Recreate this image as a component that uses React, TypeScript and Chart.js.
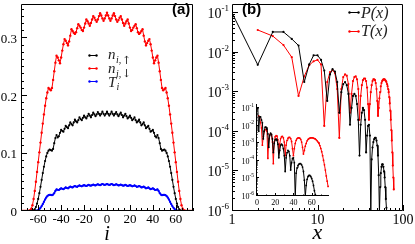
import React, { useEffect, useRef } from "react";
import { Chart, registerables } from "chart.js";
Chart.register(...registerables);

const SERIF = '"Liberation Serif", "Times New Roman", "DejaVu Serif", serif';
const SANS = '"Liberation Sans", Arial, "DejaVu Sans", sans-serif';

// ---------- panel (a) ----------
const sites = [
  -75, -74, -73, -72, -71, -70, -69, -68, -67, -66, -65, -64, -63, -62, -61, -60, -59, -58, -57, -56,
  -55, -54, -53, -52, -51, -50, -49, -48, -47, -46, -45, -44, -43, -42, -41, -40, -39, -38, -37, -36,
  -35, -34, -33, -32, -31, -30, -29, -28, -27, -26, -25, -24, -23, -22, -21, -20, -19, -18, -17, -16,
  -15, -14, -13, -12, -11, -10, -9, -8, -7, -6, -5, -4, -3, -2, -1, 0, 1, 2, 3, 4,
  5, 6, 7, 8, 9, 10, 11, 12, 13, 14, 15, 16, 17, 18, 19, 20, 21, 22, 23, 24,
  25, 26, 27, 28, 29, 30, 31, 32, 33, 34, 35, 36, 37, 38, 39, 40, 41, 42, 43, 44,
  45, 46, 47, 48, 49, 50, 51, 52, 53, 54, 55, 56, 57, 58, 59, 60, 61, 62, 63, 64,
  65, 66, 67, 68, 69, 70, 71, 72, 73, 74, 75,
];

const nUp = [
  0, 0, 0, 0, 0, 0,
  0, 0, 0, 0.0001, 0.0004, 0.0012, 0.003, 0.007, 0.013, 0.021,
  0.031, 0.042, 0.054, 0.066, 0.077, 0.087, 0.095, 0.101, 0.105, 0.107,
  0.106, 0.105, 0.108, 0.118, 0.127, 0.132, 0.128, 0.130, 0.136, 0.141,
  0.139, 0.138, 0.143, 0.148, 0.146, 0.144, 0.149, 0.154, 0.151, 0.149,
  0.154, 0.159, 0.156, 0.154, 0.158, 0.163, 0.160, 0.158, 0.162, 0.166,
  0.163, 0.161, 0.165, 0.169, 0.166, 0.163, 0.167, 0.171, 0.168, 0.165,
  0.168, 0.172, 0.169, 0.166, 0.169, 0.173, 0.169, 0.166, 0.169,
  0.173,
  0.169, 0.166, 0.169, 0.173, 0.169, 0.166, 0.169, 0.172, 0.168,
  0.165, 0.168, 0.171, 0.167, 0.163, 0.166, 0.169, 0.165, 0.161, 0.163,
  0.166, 0.162, 0.158, 0.160, 0.163, 0.158, 0.154, 0.156, 0.159, 0.154,
  0.149, 0.151, 0.154, 0.149, 0.144, 0.146, 0.148, 0.143, 0.138, 0.139,
  0.141, 0.136, 0.130, 0.128, 0.132, 0.127, 0.118, 0.108, 0.105, 0.106,
  0.107, 0.105, 0.101, 0.095, 0.087, 0.077, 0.066, 0.054, 0.042, 0.031,
  0.021, 0.013, 0.007, 0.003, 0.0012, 0.0004, 0.0001, 0, 0, 0,
  0, 0, 0, 0, 0, 0,
];

const nDown = [
  0, 0, 0, 0, 0, 0,
  0.0001, 0.0004, 0.0013, 0.004, 0.010, 0.021, 0.035, 0.051, 0.068, 0.085,
  0.102, 0.119, 0.136, 0.152, 0.168, 0.183, 0.196, 0.206, 0.214, 0.212,
  0.210, 0.214, 0.228, 0.243, 0.258, 0.270, 0.267, 0.262, 0.257, 0.267,
  0.279, 0.290, 0.299, 0.296, 0.292, 0.288, 0.295, 0.305, 0.316, 0.313,
  0.310, 0.308, 0.311, 0.318, 0.325, 0.322, 0.319, 0.315, 0.313, 0.319,
  0.326, 0.333, 0.330, 0.326, 0.322, 0.327, 0.333, 0.339, 0.336, 0.332,
  0.329, 0.333, 0.339, 0.344, 0.340, 0.335, 0.331, 0.335, 0.340,
  0.345,
  0.340, 0.335, 0.331, 0.335, 0.340, 0.344, 0.339, 0.333, 0.329,
  0.332, 0.336, 0.339, 0.333, 0.327, 0.322, 0.326, 0.330, 0.333, 0.326,
  0.319, 0.313, 0.315, 0.319, 0.322, 0.325, 0.318, 0.311, 0.308, 0.310,
  0.313, 0.316, 0.305, 0.295, 0.288, 0.292, 0.296, 0.299, 0.290, 0.279,
  0.267, 0.257, 0.262, 0.267, 0.270, 0.258, 0.243, 0.228, 0.214, 0.210,
  0.212, 0.214, 0.206, 0.196, 0.183, 0.168, 0.152, 0.136, 0.119, 0.102,
  0.085, 0.068, 0.051, 0.035, 0.021, 0.010, 0.004, 0.0013, 0.0004, 0.0001,
  0, 0, 0, 0, 0, 0,
];

const tSite = [
  0, 0, 0, 0, 0, 0, 0, 0, 0, 0, 0, 0, 0,
  0.0002, 0.0006, 0.0016, 0.0032, 0.0055, 0.0085, 0.012, 0.016, 0.020, 0.0235, 0.026, 0.0275, 0.028,
  0.028, 0.0275, 0.0285, 0.031, 0.035, 0.0375, 0.037, 0.0365, 0.038, 0.0395,
  0.0385, 0.038, 0.0395, 0.041, 0.040, 0.0395, 0.041, 0.0425, 0.0415, 0.041,
  0.0425, 0.0435, 0.0425, 0.042, 0.0435, 0.0445, 0.0435, 0.043, 0.044, 0.045,
  0.044, 0.0435, 0.0445, 0.0455, 0.0445, 0.044, 0.045, 0.046, 0.045, 0.0445,
  0.0455, 0.0465, 0.0455, 0.045, 0.046, 0.047, 0.046, 0.0455, 0.046,
  0.047,
  0.046, 0.0455, 0.046, 0.047, 0.046, 0.045, 0.0455, 0.0465, 0.0455,
  0.0445, 0.045, 0.046, 0.045, 0.044, 0.0445, 0.0455, 0.0445, 0.0435, 0.044,
  0.045, 0.044, 0.043, 0.0435, 0.0445, 0.0435, 0.042, 0.0425, 0.0435, 0.0425,
  0.041, 0.0415, 0.0425, 0.041, 0.0395, 0.040, 0.041, 0.0395, 0.038, 0.0385,
  0.0395, 0.038, 0.0365, 0.037, 0.0375, 0.035, 0.031, 0.0285, 0.0275, 0.028,
  0.028, 0.0275, 0.026, 0.0235, 0.020, 0.016, 0.012, 0.0085, 0.0055, 0.0032, 0.0016, 0.0006, 0.0002,
  0, 0, 0, 0, 0, 0, 0, 0, 0, 0, 0, 0, 0,
];

const xTicksA = [-60, -40, -20, 0, 20, 40, 60];
const xTickLabelsA = ["-60", "-40", "-20", "0", "20", "40", "60"];
const yTicksA = [0, 0.1, 0.2, 0.3];
const yTickLabelsA = ["0", "0.1", "0.2", "0.3"];

// ---------- panel (b) ----------
const dist = [
  1, 2, 3, 4, 5, 6, 7, 8, 9, 10, 11, 12, 13, 14, 15, 16, 17, 18, 19, 20,
  21, 22, 23, 24, 25, 26, 27, 28, 29, 30, 31, 32, 33, 34, 35, 36, 37, 38, 39, 40,
  41, 42, 43, 44, 45, 46, 47, 48, 49, 50, 51, 52, 53, 54, 55, 56, 57, 58, 59, 60,
  61, 62, 63, 64, 65, 66, 67, 68, 69, 70, 71, 72, 73, 74, 75, 76, 77, 78,
];

const pCorr = [
  0.1, 0.0049, 0.033, 0.033, 0.022, 0.015, 0.0018, 0.0050, 0.0085, 0.0085,
  0.0065, 0.0035, 0.0006, 0.0028, 0.0038, 0.0033, 0.0018, 0.0003, 0.0010, 0.0016,
  0.0018, 0.0015, 0.0009, 0.00015, 0.0004, 0.0008, 0.0009, 0.0008, 0.0005, 0.0002,
  0.000025, 0.00015, 0.0003, 0.0004, 0.00035, 0.0002, 0.00003, 0.00008, 0.00014, 0.00015,
  0.00008, 0.0000008, 0.00002, 0.00004, 0.000055, 0.000065, 0.00007, 0.00007, 0.00006, 0.000045,
  0.000025, 0.000008, 0.0000009, 0.000004, 0.000009, 0.000013, 0.000015, 0.000015, 0.000013, 0.00001,
  0.000007, 0.000004, 0.000002, 0.0000012, 0.0000008, 0.0000005,
  null, null, null, null, null, null, null, null, null, null, null, null,
];

const tCorr = [
  null, 0.037, 0.026, 0.0154, 0.0076, 0.0008, 0.0025, 0.0048, 0.0060, 0.0065,
  0.0050, 0.00014, 0.0018, 0.0032, 0.0036, 0.0030, 0.0012, 0.00007, 0.0012, 0.0024,
  0.0028, 0.0026, 0.0016, 0.0003, 0.0009, 0.0019, 0.0024, 0.0025, 0.0021, 0.0012,
  0.0002, 0.0008, 0.0015, 0.0020, 0.0022, 0.0022, 0.0019, 0.0013, 0.0005, 0.0002,
  0.0005, 0.0010, 0.0015, 0.0019, 0.0021, 0.0021, 0.0020, 0.0017, 0.0012, 0.0006,
  0.00025, 0.0004, 0.0007, 0.0010, 0.0014, 0.0017, 0.0019, 0.0020, 0.0021, 0.0021,
  0.0021, 0.0020, 0.0019, 0.0018, 0.0016, 0.0014, 0.0012, 0.0010, 0.00075, 0.00052,
  0.00034, 0.0002, 0.00011, 0.00006, 0.00003, 0.000014, 0.000007, 0.0000035,
];

const xTicksB = [1, 10, 100];
const xTickLabelsB = ["1", "10", "100"];
const yExpB = [-6, -5, -4, -3, -2, -1];
const xTicksInset = [0, 20, 40, 60];
const xTickLabelsInset = ["0", "20", "40", "60"];
const yExpInset = [-6, -5, -4, -3, -2, -1];

// ---------- helpers ----------
function pts(xs: number[], ys: (number | null)[]) {
  return xs.map((x, k) => ({ x, y: ys[k] }));
}

function lineSet(data: any, color: string, width: number, radius: number) {
  return {
    data,
    borderColor: color,
    backgroundColor: color,
    pointBackgroundColor: color,
    pointBorderColor: color,
    pointBorderWidth: 0,
    pointRadius: radius,
    borderWidth: width,
    tension: 0,
    fill: false,
    clip: 0,
  };
}

function logMinors(exps: number[], maxV: number) {
  const out: number[] = [];
  for (const e of exps) {
    for (let m = 2; m <= 9; m++) {
      const v = m * Math.pow(10, e);
      if (v <= maxV) out.push(v);
    }
  }
  return out;
}

function drawTicks(
  chart: any,
  xMajor: number[],
  xMinor: number[],
  yMajor: number[],
  yMinor: number[],
  majLen: number,
  minLen: number,
  box: boolean
) {
  const { ctx, chartArea: ca } = chart;
  const xs = chart.scales.x;
  const ys = chart.scales.y;
  ctx.save();
  ctx.strokeStyle = "#000";
  ctx.lineWidth = 1;
  ctx.beginPath();
  if (box) {
    ctx.rect(ca.left + 0.5, ca.top + 0.5, ca.right - ca.left - 1, ca.bottom - ca.top - 1);
  } else {
    ctx.moveTo(ca.left + 0.5, ca.top);
    ctx.lineTo(ca.left + 0.5, ca.bottom - 0.5);
    ctx.lineTo(ca.right, ca.bottom - 0.5);
  }
  const xt = (v: number, len: number) => {
    const p = Math.round(xs.getPixelForValue(v)) + 0.5;
    ctx.moveTo(p, ca.bottom);
    ctx.lineTo(p, ca.bottom - len);
  };
  const yt = (v: number, len: number) => {
    const p = Math.round(ys.getPixelForValue(v)) - 0.5;
    ctx.moveTo(ca.left, p);
    ctx.lineTo(ca.left + len, p);
  };
  xMajor.forEach((v) => xt(v, majLen));
  xMinor.forEach((v) => xt(v, minLen));
  yMajor.forEach((v) => yt(v, majLen));
  yMinor.forEach((v) => yt(v, minLen));
  ctx.stroke();
  ctx.restore();
}

function drawPow(
  ctx: CanvasRenderingContext2D,
  exp: number,
  xRight: number,
  yMid: number,
  baseSize: number,
  supSize: number,
  baseDy: number,
  supDy: number
) {
  const sup = String(exp);
  ctx.font = `${supSize}px ${SERIF}`;
  const ws = ctx.measureText(sup).width;
  ctx.font = `${baseSize}px ${SERIF}`;
  const wb = ctx.measureText("10").width;
  const x0 = xRight - ws - wb;
  ctx.textAlign = "left";
  ctx.fillText("10", x0, yMid + baseDy);
  ctx.font = `${supSize}px ${SERIF}`;
  ctx.fillText(sup, x0 + wb, yMid + supDy);
}

function legendSym(ctx: CanvasRenderingContext2D, x0: number, x1: number, y: number, color: string) {
  ctx.save();
  ctx.strokeStyle = color;
  ctx.fillStyle = color;
  ctx.lineWidth = 1;
  ctx.beginPath();
  ctx.moveTo(x0, y + 0.5);
  ctx.lineTo(x1, y + 0.5);
  ctx.stroke();
  for (const x of [x0 + 0.5, x1 - 0.5]) {
    ctx.beginPath();
    ctx.arc(x, y + 0.5, 1.2, 0, Math.PI * 2);
    ctx.fill();
  }
  ctx.restore();
}

// ---------- decoration plugins ----------
const xMinorA: number[] = [];
for (let v = -75; v <= 75; v += 5) if (!xTicksA.includes(v)) xMinorA.push(v);
const yMinorA: number[] = [];
for (let k = 1; k < 29; k++) {
  const v = Math.round(k * 0.0125 * 10000) / 10000;
  if (Math.abs(v * 10 - Math.round(v * 10)) > 1e-6) yMinorA.push(v);
}

const decoA = {
  id: "decoA",
  afterDraw(chart: any) {
    drawTicks(chart, xTicksA, xMinorA, yTicksA, yMinorA, 6, 3, true);
    const { ctx, chartArea: ca } = chart;
    const xs = chart.scales.x;
    const ys = chart.scales.y;
    ctx.save();
    ctx.fillStyle = "#000";
    ctx.textBaseline = "alphabetic";
    ctx.font = `13px ${SERIF}`;
    ctx.textAlign = "center";
    xTicksA.forEach((v, k) => ctx.fillText(xTickLabelsA[k], xs.getPixelForValue(v), 223));
    ctx.textAlign = "right";
    yTicksA.forEach((v, k) => ctx.fillText(yTickLabelsA[k], 17, ys.getPixelForValue(v) + 4.5));
    // axis title
    ctx.textAlign = "center";
    ctx.font = `italic 20px ${SERIF}`;
    ctx.fillText("i", (ca.left + ca.right) / 2, 240);
    // panel label
    ctx.textAlign = "left";
    ctx.font = `bold 15px ${SANS}`;
    ctx.fillText("(a)", 172, 14);
    // legend
    legendSym(ctx, 89, 97, 55, "#000");
    legendSym(ctx, 89, 97, 68, "#ff0000");
    legendSym(ctx, 89, 97, 81, "#0000ff");
    ctx.fillStyle = "#222";
    ctx.font = `italic 15px ${SERIF}`;
    ctx.fillText("n", 108, 59);
    ctx.fillText("n", 108, 72.5);
    ctx.fillText("T", 108, 87);
    ctx.font = `italic 10px ${SERIF}`;
    ctx.fillText("i,", 116, 63);
    ctx.fillText("i,", 116, 76.5);
    ctx.fillText("i", 116.5, 90);
    ctx.font = `11px "DejaVu Serif", ${SERIF}`;
    ctx.fillText("\u2191", 122, 63.5);
    ctx.fillText("\u2193", 122, 77);
    ctx.restore();
  },
};

const yMaxB = Math.pow(10, -0.776);
const xMinorB = [2, 3, 4, 5, 6, 7, 8, 9, 20, 30, 40, 50, 60, 70, 80, 90];
const yMinorB = logMinors(yExpB, yMaxB);

const decoB = {
  id: "decoB",
  afterDraw(chart: any) {
    const yMajor = yExpB.map((e) => Math.pow(10, e));
    drawTicks(chart, xTicksB, xMinorB, yMajor, yMinorB, 6, 3, true);
    const { ctx, chartArea: ca } = chart;
    const xs = chart.scales.x;
    const ys = chart.scales.y;
    ctx.save();
    ctx.fillStyle = "#000";
    ctx.textBaseline = "alphabetic";
    ctx.font = `14px ${SERIF}`;
    ctx.textAlign = "center";
    xTicksB.forEach((v, k) => ctx.fillText(xTickLabelsB[k], xs.getPixelForValue(v), 224));
    yExpB.forEach((e) => drawPow(ctx, e, 29, ys.getPixelForValue(Math.pow(10, e)), 14, 9, 5, -2));
    ctx.textAlign = "center";
    ctx.font = `italic 22px ${SERIF}`;
    ctx.fillText("x", (ca.left + ca.right) / 2, 239);
    ctx.textAlign = "left";
    ctx.font = `bold 15px ${SANS}`;
    ctx.fillText("(b)", 42, 14);
    legendSym(ctx, 149, 159, 12, "#000");
    legendSym(ctx, 149, 159, 31, "#ff0000");
    ctx.fillStyle = "#222";
    ctx.font = `italic 16px ${SERIF}`;
    ctx.fillText("P(x)", 161, 17.5);
    ctx.fillText("T(x)", 161, 36);
    ctx.restore();
  },
};

const yMaxInset = Math.pow(10, -0.75);
const xMinorInset = [10, 30, 50, 70];
const yMinorInset = logMinors(yExpInset, yMaxInset);

const decoInset = {
  id: "decoInset",
  afterDraw(chart: any) {
    const yMajor = yExpInset.map((e) => Math.pow(10, e));
    drawTicks(chart, xTicksInset, xMinorInset, yMajor, yMinorInset, 3, 1.5, false);
    const { ctx, chartArea: ca } = chart;
    const xs = chart.scales.x;
    const ys = chart.scales.y;
    ctx.save();
    ctx.fillStyle = "#000";
    ctx.textBaseline = "alphabetic";
    ctx.font = `8px ${SERIF}`;
    ctx.textAlign = "center";
    xTicksInset.forEach((v, k) => ctx.fillText(xTickLabelsInset[k], xs.getPixelForValue(v), ca.bottom + 9));
    yExpInset.forEach((e) => drawPow(ctx, e, 54, ys.getPixelForValue(Math.pow(10, e)), 8, 5.5, 3, -1.5));
    ctx.restore();
  },
};

function baseOptions(padding: any, xScale: any, yScale: any) {
  return {
    responsive: false,
    maintainAspectRatio: false,
    devicePixelRatio: 1,
    animation: false as const,
    events: [] as any[],
    layout: { padding },
    plugins: { legend: { display: false }, tooltip: { enabled: false } },
    scales: { x: { display: false, ...xScale }, y: { display: false, ...yScale } },
  };
}

export default function App() {
  const refA = useRef<HTMLCanvasElement>(null);
  const refB = useRef<HTMLCanvasElement>(null);
  const refC = useRef<HTMLCanvasElement>(null);

  useEffect(() => {
    const charts: Chart[] = [];
    charts.push(
      new Chart(refA.current as HTMLCanvasElement, {
        type: "line",
        data: {
          datasets: [
            lineSet(pts(sites, nUp), "#000000", 1, 1.1),
            lineSet(pts(sites, nDown), "#ff0000", 1, 1.2),
            lineSet(pts(sites, tSite), "#0000ff", 1.6, 1.1),
          ] as any,
        },
        options: baseOptions(
          { left: 21, right: 7, top: 1, bottom: 33 },
          { type: "linear", min: -75, max: 75 },
          { type: "linear", min: 0, max: 0.36 }
        ) as any,
        plugins: [decoA],
      })
    );
    charts.push(
      new Chart(refB.current as HTMLCanvasElement, {
        type: "line",
        data: {
          datasets: [
            lineSet(pts(dist, pCorr), "#000000", 1, 1.1),
            lineSet(pts(dist, tCorr), "#ff0000", 1, 1.1),
          ] as any,
        },
        options: baseOptions(
          { left: 32, right: 12, top: 1, bottom: 33 },
          { type: "logarithmic", min: 1, max: 100, bounds: "data" },
          { type: "logarithmic", min: 1e-6, max: yMaxB, bounds: "data" }
        ) as any,
        plugins: [decoB],
      })
    );
    charts.push(
      new Chart(refC.current as HTMLCanvasElement, {
        type: "line",
        data: {
          datasets: [
            lineSet(pts(dist, pCorr), "#000000", 1, 0.9),
            lineSet(pts(dist, tCorr), "#ff0000", 1, 0.9),
          ] as any,
        },
        options: baseOptions(
          { left: 56, right: 11, top: 14, bottom: 24 },
          { type: "linear", min: -1, max: 79 },
          { type: "logarithmic", min: 1e-6, max: yMaxInset, bounds: "data" }
        ) as any,
        plugins: [decoInset],
      })
    );
    return () => charts.forEach((c) => c.destroy());
  }, []);

  return (
    <div style={{ position: "absolute", left: 0, top: 0, width: 415, height: 244, background: "#fff", overflow: "hidden" }}>
      <canvas ref={refA} width={200} height={244} style={{ position: "absolute", left: 0, top: 0, width: 200, height: 244 }} />
      <canvas ref={refB} width={215} height={244} style={{ position: "absolute", left: 200, top: 0, width: 215, height: 244 }} />
      <canvas ref={refC} width={140} height={130} style={{ position: "absolute", left: 200, top: 90, width: 140, height: 130 }} />
    </div>
  );
}
